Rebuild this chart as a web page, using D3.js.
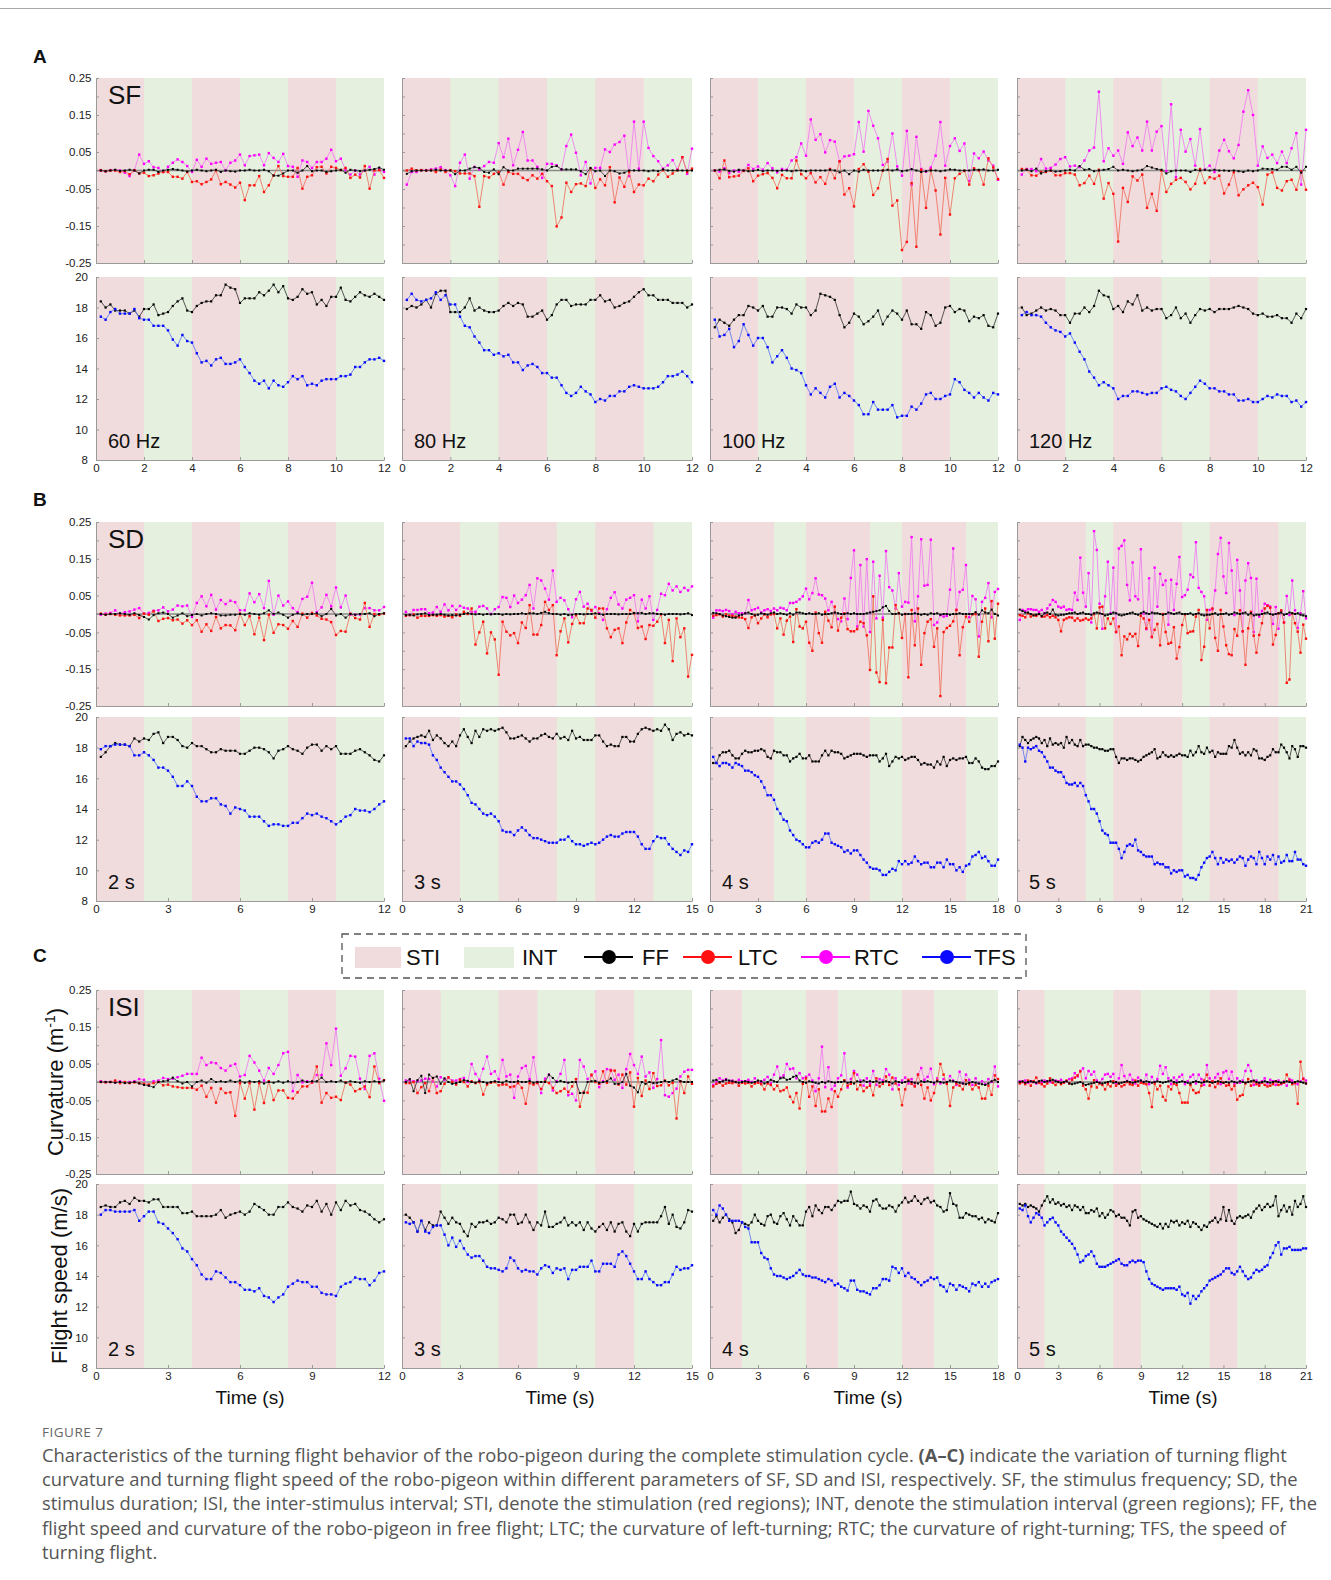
<!DOCTYPE html>
<html>
<head>
<meta charset="utf-8">
<script src="https://cdn.jsdelivr.net/npm/d3@7"></script>
<style>
  body { margin: 0; background: #fff; }
  svg { display: block; font-family: "Liberation Sans", Arial, sans-serif; }
</style>
</head>
<body>
<div id="wrapper"></div>
<script>
// ---- data -------------------------------------------------------------
// panels in reading order: A1..A4 (SF), B1..B4 (SD), C1..C4 (ISI)
const rowLetters = ["A", "B", "C"];
const rowNames = ["SF", "SD", "ISI"];
const panelNames = ["60 Hz", "80 Hz", "100 Hz", "120 Hz", "2 s", "3 s", "4 s", "5 s", "2 s", "3 s", "4 s", "5 s"];
const durations = [12, 12, 12, 12, 12, 15, 18, 21, 12, 15, 18, 21];
// stimulation (STI) periods, seconds; the rest of each panel is INT
const stiBands = [
  [[0, 2], [4, 6], [8, 10]], [[0, 2], [4, 6], [8, 10]], [[0, 2], [4, 6], [8, 10]], [[0, 2], [4, 6], [8, 10]],
  [[0, 2], [4, 6], [8, 10]], [[0, 3], [5, 8], [10, 13]], [[0, 4], [6, 10], [12, 16]], [[0, 5], [7, 12], [14, 19]],
  [[0, 2], [4, 6], [8, 10]], [[0, 2], [5, 7], [10, 12]], [[0, 2], [6, 8], [12, 14]], [[0, 2], [7, 9], [14, 16]]
];
const xTicks = [
  [0, 2, 4, 6, 8, 10, 12], [0, 2, 4, 6, 8, 10, 12], [0, 2, 4, 6, 8, 10, 12], [0, 2, 4, 6, 8, 10, 12],
  [0, 3, 6, 9, 12], [0, 3, 6, 9, 12, 15], [0, 3, 6, 9, 12, 15, 18], [0, 3, 6, 9, 12, 15, 18, 21],
  [0, 3, 6, 9, 12], [0, 3, 6, 9, 12, 15], [0, 3, 6, 9, 12, 15, 18], [0, 3, 6, 9, 12, 15, 18, 21]
];
const curvTicks = [-0.25, -0.2, -0.15, -0.1, -0.05, 0, 0.05, 0.1, 0.15, 0.2, 0.25];
const curvLabels = [-0.25, -0.15, -0.05, 0.05, 0.15, 0.25];
const speedTicks = [8, 10, 12, 14, 16, 18, 20];

// flight speed, m/s
const ffSpeed = [
  [18.4,18.0,18.2,17.8,17.8,17.8,17.6,17.8,17.4,17.9,17.9,18.2,17.5,17.6,17.7,18.1,18.4,18.6,17.8,17.7,18.1,18.3,18.4,18.4,18.8,18.8,19.5,19.3,19.2,18.3,18.6,18.6,18.6,19.0,18.8,19.1,19.5,19.0,19.4,18.6,18.5,18.7,19.2,18.9,19.0,18.2,18.5,18.1,18.7,18.7,19.3,18.5,18.4,18.7,19.0,18.8,18.7,18.9,18.7,18.5],
  [17.9,18.1,18.0,18.2,18.5,18.0,18.9,19.1,19.1,17.7,17.7,17.7,18.0,18.6,17.8,18.0,17.8,17.7,17.7,17.8,18.1,18.3,18.1,18.3,18.2,17.4,17.4,17.6,17.8,17.2,17.5,18.2,18.5,18.5,18.1,18.2,18.2,18.2,18.5,18.5,18.8,18.4,18.5,18.0,18.1,18.3,18.4,18.7,19.0,19.2,18.8,18.8,18.5,18.5,18.5,18.3,18.3,18.3,18.0,18.2],
  [16.7,17.2,17.0,16.8,17.2,17.5,17.5,18.1,18.0,17.8,18.1,17.4,17.4,18.0,18.0,17.9,17.6,18.2,18.0,18.0,17.5,17.8,18.9,18.8,18.7,18.5,17.5,16.7,17.0,17.6,17.4,16.9,17.1,17.4,17.8,16.9,17.4,17.8,17.6,17.2,17.8,16.9,16.9,16.6,17.7,17.5,16.8,17.0,18.0,18.1,17.7,17.9,17.8,17.1,17.4,17.3,17.5,16.8,16.7,17.6],
  [18.0,17.5,17.6,17.8,18.0,17.8,17.9,17.8,17.5,17.5,17.0,17.6,17.6,18.0,17.7,18.1,19.1,18.8,18.7,17.9,18.1,17.7,18.4,18.2,18.8,17.8,18.0,17.8,17.9,17.9,17.3,17.5,18.0,17.3,17.6,17.0,17.5,17.9,17.8,17.9,17.7,17.9,17.9,17.9,18.0,18.1,18.0,17.9,17.6,17.5,17.6,17.4,17.4,17.5,17.3,17.3,17.0,17.6,17.3,17.9],
  [17.4,17.7,18.1,18.3,18.2,18.2,18.1,18.6,18.4,18.6,18.5,18.9,19.0,18.3,18.7,18.7,18.5,18.1,18.0,18.3,18.1,18.1,17.9,17.7,17.7,17.9,17.8,17.8,17.8,17.6,17.6,17.8,18.0,18.0,17.9,17.7,17.3,17.8,17.9,18.1,17.9,17.8,17.6,18.0,18.2,18.2,17.8,18.1,17.9,18.1,17.6,17.6,17.6,17.8,17.9,17.7,17.5,17.2,17.1,17.5],
  [18.1,18.4,18.6,18.7,18.8,18.7,19.1,18.5,18.8,18.6,18.3,18.1,18.4,18.1,18.8,19.2,18.7,18.3,19.1,18.7,19.2,19.1,19.2,19.1,19.2,19.3,19.0,18.6,18.6,18.7,18.8,18.6,18.4,18.6,18.6,18.8,18.9,18.7,18.6,18.9,18.6,18.7,18.5,19.1,18.6,18.7,18.5,18.5,18.5,18.8,18.8,18.4,18.1,18.2,18.1,18.1,18.7,18.7,18.4,18.4,18.9,19.2,19.3,19.2,19.1,19.2,19.1,19.5,19.2,18.5,18.9,19.0,18.8,18.9,18.8],
  [17.0,17.0,17.5,17.7,17.7,17.8,17.5,17.3,17.3,17.6,17.8,17.7,17.7,17.8,17.8,17.9,17.8,17.4,17.3,17.8,17.7,17.7,17.5,17.5,17.1,17.3,17.4,17.6,17.3,17.3,17.5,17.1,17.1,17.1,17.5,17.8,17.5,17.8,17.7,17.7,17.6,17.3,17.4,17.5,17.6,17.6,17.6,17.5,17.4,17.5,17.5,17.5,17.1,17.3,17.6,16.8,17.1,17.4,17.3,17.4,17.2,17.3,17.4,17.4,17.2,16.9,17.0,16.9,16.9,16.7,17.1,16.9,17.4,16.8,17.2,17.3,17.2,17.3,17.3,17.4,17.0,17.0,17.3,17.1,16.7,16.6,16.6,16.8,16.8,17.1],
  [18.1,18.7,18.5,18.3,18.5,18.6,18.7,18.6,18.3,18.5,18.1,18.6,18.2,18.3,18.2,18.3,18.0,18.7,18.3,18.5,18.2,18.1,18.5,18.1,18.2,18.2,18.1,18.0,18.0,17.9,17.9,17.8,17.8,17.9,17.9,17.4,17.0,17.3,17.3,17.2,17.3,17.3,17.2,17.1,17.2,17.4,17.5,17.6,17.7,17.9,17.3,17.4,17.7,17.5,17.4,17.5,17.4,17.5,17.6,17.5,17.5,17.4,17.8,17.5,17.7,18.1,17.7,17.6,18.0,17.7,17.8,17.4,17.7,17.6,17.6,17.6,18.1,18.0,18.5,18.0,17.6,17.7,17.5,17.7,17.5,17.9,17.8,17.3,17.3,17.2,17.4,17.5,17.9,17.7,17.7,18.2,18.0,17.7,17.3,18.1,17.9,17.4,18.1,18.1,18.0],
  [18.5,18.6,18.5,18.5,18.8,18.9,18.7,19.1,18.9,18.9,18.8,19.0,19.0,18.5,18.5,18.5,18.5,18.1,18.1,18.2,17.9,17.9,17.9,17.9,18.0,18.3,17.8,18.0,18.1,18.2,18.0,18.2,18.7,18.5,18.3,18.0,18.0,18.5,18.5,18.8,18.5,18.4,18.2,18.6,18.5,18.9,18.2,18.7,18.0,18.8,18.3,18.9,18.6,18.7,18.3,18.2,18.0,17.7,17.5,17.7],
  [18.0,17.8,17.5,16.9,17.6,17.0,17.5,17.3,17.3,18.2,17.8,17.4,17.8,17.5,17.4,16.9,16.6,17.4,17.2,17.5,17.5,17.6,17.4,17.5,17.8,17.7,17.5,18.0,18.0,17.4,17.5,18.0,17.5,17.0,17.5,17.3,18.2,17.2,17.2,17.4,17.5,17.8,17.3,17.5,17.3,17.5,17.0,17.5,17.1,16.9,17.2,17.4,17.0,17.5,16.9,17.4,17.5,16.9,16.6,17.4,16.9,17.4,17.5,17.5,17.5,17.5,17.9,18.5,17.4,18.0,17.2,17.1,17.5,18.3,18.2],
  [17.6,17.9,17.5,17.8,18.0,17.7,17.5,16.8,17.0,17.5,17.4,17.3,17.5,18.0,17.6,17.4,17.3,17.9,18.0,17.5,17.4,17.9,18.1,17.7,17.3,17.9,17.6,17.3,17.3,18.2,18.5,17.9,18.6,18.3,18.1,18.5,18.5,18.3,18.6,18.9,18.8,18.9,18.9,19.5,18.7,18.6,18.4,18.6,18.5,18.2,18.9,19.0,18.6,18.4,18.4,18.6,18.5,18.2,18.6,18.8,19.1,18.8,18.9,19.2,18.9,18.7,19.0,19.1,18.8,18.9,18.6,18.5,18.2,18.3,19.4,18.7,18.6,17.8,17.8,18.1,18.0,17.9,17.9,17.7,17.8,17.5,17.7,17.6,17.5,18.1],
  [18.7,18.6,18.7,18.5,18.6,18.5,18.4,18.2,18.6,18.9,19.2,18.8,19.0,18.7,18.8,18.6,18.7,18.5,18.6,18.3,18.6,18.5,18.3,18.5,18.1,18.1,18.3,18.2,18.4,17.9,18.1,17.8,18.0,18.3,18.2,17.9,18.0,17.8,17.8,17.6,17.3,18.2,18.3,17.8,17.9,17.7,17.6,17.5,17.4,17.3,17.2,17.4,17.1,17.4,17.2,17.6,17.5,17.6,17.3,17.5,17.4,17.6,17.2,17.5,17.4,17.2,17.0,17.3,17.2,17.5,17.6,17.8,17.5,17.7,18.5,17.6,18.3,17.6,17.4,17.8,17.9,17.8,17.9,18.0,17.8,18.2,18.4,18.6,18.3,18.5,18.7,18.5,18.6,19.2,17.9,18.3,18.6,18.2,18.5,18.0,18.9,18.5,18.7,19.2,18.5]
];
const tfsSpeed = [
  [17.4,17.2,17.7,17.9,17.6,17.6,17.6,17.9,17.3,17.2,17.2,16.8,16.8,16.8,16.5,15.9,15.5,16.2,15.8,15.7,15.0,14.4,14.5,14.2,14.6,14.7,14.3,14.3,14.4,14.6,14.1,13.7,13.2,13.0,13.2,12.7,13.2,12.9,12.8,13.1,13.5,13.3,13.5,12.9,13.0,12.9,13.2,13.3,13.3,13.3,13.5,13.5,13.6,14.1,14.1,14.4,14.6,14.6,14.7,14.5],
  [18.5,18.9,18.5,18.4,18.5,18.6,19.0,18.5,18.8,18.2,18.2,17.4,16.8,16.7,16.1,15.7,15.2,15.2,14.9,15.0,14.8,14.9,14.4,14.4,13.9,14.2,14.3,14.1,13.7,13.7,13.4,13.4,12.9,12.4,12.2,12.4,12.8,12.5,12.3,11.8,12.0,11.9,12.2,12.2,12.5,12.5,12.8,12.9,12.8,12.7,12.7,12.7,12.8,13.1,13.5,13.5,13.6,13.8,13.5,13.1],
  [17.2,16.1,16.2,16.6,15.4,15.8,16.9,16.2,15.5,16.0,16.0,15.4,14.4,14.8,15.2,14.7,14.0,13.9,13.7,12.9,12.3,12.7,12.4,12.1,12.8,13.0,12.1,12.4,12.2,11.9,11.6,11.0,11.0,11.8,11.3,11.3,11.3,11.6,10.8,10.9,10.9,11.5,11.3,11.7,12.3,12.4,12.0,12.0,12.2,12.3,13.3,13.1,12.6,12.4,12.1,12.4,12.1,11.9,12.4,12.3],
  [17.5,17.7,17.5,17.5,17.4,17.0,16.7,16.5,16.4,16.1,16.3,15.7,15.1,14.6,13.8,13.4,12.9,13.1,12.9,12.7,12.0,12.2,12.2,12.5,12.5,12.4,12.3,12.4,12.4,12.7,12.8,12.6,12.5,12.2,12.0,12.4,12.8,13.2,13.0,12.7,12.7,12.5,12.5,12.3,12.3,11.9,11.9,12.0,11.8,11.8,12.0,12.2,12.1,12.3,12.2,12.2,11.8,11.9,11.5,11.8],
  [17.9,18.1,18.1,18.2,18.2,18.2,18.1,17.5,17.5,17.7,17.5,17.2,16.7,16.7,16.5,16.1,15.5,15.5,15.8,15.5,14.8,14.5,14.5,14.7,14.7,14.3,14.2,13.7,14.1,14.0,13.9,13.5,13.5,13.5,13.2,12.9,13.0,13.0,12.9,12.9,13.1,13.1,13.4,13.7,13.6,13.7,13.5,13.4,13.2,13.0,13.2,13.5,13.6,14.0,13.9,13.9,13.8,14.0,14.3,14.5],
  [18.6,18.6,18.1,18.4,18.3,18.3,18.2,17.5,17.2,16.7,16.4,16.1,15.8,15.8,15.6,15.3,14.9,14.4,14.3,14.0,13.7,13.6,13.7,13.5,13.2,12.6,12.5,12.5,12.3,12.6,12.8,12.6,12.3,12.1,12.1,12.0,11.9,11.8,11.8,11.8,12.0,12.0,12.2,11.9,11.7,11.7,11.6,11.7,11.8,11.7,11.8,12.0,12.2,12.3,12.2,12.2,12.4,12.5,12.5,12.5,12.2,11.7,11.4,11.4,11.9,12.2,12.1,12.1,11.7,11.4,11.2,11.0,11.3,11.2,11.7],
  [17.4,17.0,16.8,17.0,17.0,16.9,16.7,17.0,16.9,16.8,16.5,16.5,16.4,16.2,16.1,15.8,15.4,14.9,14.9,14.6,14.0,13.7,13.3,13.2,12.6,12.3,12.0,11.9,11.7,11.5,11.5,11.8,11.9,11.8,12.0,12.4,12.4,11.8,11.7,11.6,11.5,11.2,11.3,11.1,11.3,11.3,11.0,10.7,10.5,10.2,10.1,10.1,10.0,9.7,9.7,9.9,10.1,10.0,10.6,10.4,10.6,10.4,10.5,10.9,10.6,10.4,10.5,10.5,10.2,10.2,10.5,10.5,10.2,10.7,10.4,10.4,10.0,10.2,9.9,10.3,10.4,10.9,11.0,11.2,10.8,10.9,10.6,10.3,10.3,10.7],
  [18.2,18.0,17.1,18.0,17.9,18.0,18.1,17.8,17.7,17.4,17.1,16.7,16.7,16.5,16.4,16.4,16.1,15.7,15.6,15.6,15.7,15.5,15.7,15.5,14.9,14.5,14.0,14.0,13.7,13.2,12.6,12.4,12.3,11.8,11.8,11.8,11.4,10.8,11.2,11.6,11.7,11.6,12.0,11.3,11.2,11.0,10.9,10.9,10.9,10.4,10.5,10.4,10.4,10.2,10.2,9.8,10.0,9.9,10.0,10.0,9.6,9.7,9.5,9.5,9.4,9.7,10.2,10.5,10.8,10.9,11.2,10.8,10.4,10.8,10.5,10.7,10.6,10.7,10.5,10.7,10.9,10.8,10.3,10.7,10.9,10.8,10.4,11.2,10.8,10.4,10.9,10.7,11.0,10.4,10.9,10.5,10.6,11.0,10.6,10.6,11.2,10.7,10.7,10.4,10.3],
  [18.0,18.3,18.3,18.2,18.2,18.2,18.2,18.3,17.6,17.9,18.2,18.2,17.5,17.4,17.1,16.8,16.4,15.8,15.6,15.1,14.7,14.1,13.8,13.8,14.3,14.2,13.9,13.6,13.6,13.4,13.1,13.1,13.0,13.2,12.7,12.6,12.3,12.6,12.8,13.3,13.5,13.7,13.6,13.6,13.3,13.3,12.9,12.8,12.8,12.7,13.3,13.5,13.6,13.9,13.8,13.8,13.4,13.7,14.2,14.3],
  [17.5,17.4,17.5,16.9,17.6,16.9,16.8,17.2,17.3,17.3,16.7,16.0,16.5,15.9,16.3,15.8,15.4,15.2,15.3,15.3,15.0,14.6,14.5,14.5,14.4,14.3,14.5,15.2,15.0,14.5,14.3,14.4,14.3,14.3,14.1,14.5,14.7,14.6,14.2,14.5,14.4,14.5,13.8,14.4,14.4,14.6,14.6,14.6,15.0,14.3,14.3,14.8,14.8,14.8,14.6,15.4,15.6,15.3,14.8,14.3,13.8,13.8,14.3,13.8,13.6,13.4,13.4,13.6,13.6,14.1,14.6,14.4,14.5,14.5,14.7],
  [18.3,18.0,18.6,18.4,18.0,17.6,17.6,17.6,17.6,17.5,17.2,17.1,16.2,16.2,16.2,15.5,15.2,15.1,14.5,14.1,14.0,14.0,13.9,13.8,13.9,14.0,14.2,14.4,14.1,14.0,14.0,13.9,13.9,13.8,13.7,13.6,13.8,13.7,13.4,13.5,13.3,13.2,13.05,13.7,13.7,13.1,13.0,13.0,12.9,12.8,13.2,13.2,13.4,13.8,13.8,13.7,14.6,14.5,14.2,14.5,14.0,14.2,13.9,13.8,13.6,13.4,13.6,13.7,13.9,13.8,13.9,13.4,13.3,13.0,13.5,13.4,13.1,13.4,13.3,13.2,13.0,13.5,13.4,13.6,13.3,13.5,13.3,13.6,13.7,13.8],
  [18.4,18.3,18.6,17.9,17.5,17.8,18.1,18.0,17.8,17.3,17.5,17.7,17.8,17.5,17.3,16.9,16.7,16.5,16.3,16.1,15.8,15.4,14.9,15.0,15.3,15.4,15.6,15.3,14.8,14.6,14.6,14.6,14.7,14.8,14.9,15.0,15.1,14.8,14.7,14.7,14.9,15.0,14.9,15.0,15.0,14.9,14.3,13.8,13.5,13.4,13.3,13.2,13.1,13.2,13.2,13.2,13.2,13.1,13.3,12.8,12.7,12.9,12.2,12.7,12.5,12.7,13.0,13.2,13.4,13.7,13.8,13.9,14.0,14.1,14.3,14.5,14.5,14.2,14.1,14.3,14.6,14.3,14.0,13.8,13.9,14.2,14.4,14.3,14.4,14.6,14.7,15.2,15.5,16.0,16.2,15.4,15.8,15.8,15.9,15.7,15.7,15.7,15.7,15.8,15.8]
];

// curvature, in 10^-3 m^-1
const ffCurv = [
  [0,-2,0,2,-1,0,2,0,-8,0,2,2,-4,0,2,4,2,0,-3,0,2,0,-2,0,2,-4,0,-2,-3,0,0,2,0,0,2,-2,-14,-14,-8,0,0,-6,0,12,-2,0,0,-4,-2,0,2,-6,2,0,-2,0,2,4,8,2],
  [-9,-2,0,0,0,0,2,0,0,0,-10,0,0,5,9,7,-4,-6,3,-10,9,0,0,5,5,5,5,5,3,0,10,12,3,3,3,3,-2,-10,7,-2,0,-15,0,-2,-8,-6,0,0,0,0,-2,0,-2,3,0,0,0,0,0,0],
  [0,2,3,-1,-3,2,0,-2,-1,2,-2,0,0,-1,0,0,-2,0,0,-2,0,0,0,0,2,0,-5,0,-10,0,-3,2,0,0,0,0,2,0,3,-2,0,4,0,-4,-2,0,0,-2,0,3,2,0,0,0,2,2,3,0,0,2],
  [0,2,-2,5,-8,-2,0,-3,-2,0,2,0,12,2,4,-2,0,2,4,10,0,2,0,-2,0,2,12,8,4,2,-8,-2,0,0,0,-4,2,0,2,0,2,0,0,-1,0,-2,-4,0,-2,0,5,4,4,2,10,10,2,10,-6,10],
  [0,-2,0,0,2,0,-2,2,-3,-8,-15,-3,2,4,0,-10,-4,2,-6,-3,0,-4,0,2,0,-4,-4,-2,-2,0,-2,2,0,-2,2,10,0,4,-2,-10,-2,2,-2,0,0,2,-6,0,14,-4,0,-10,0,-2,0,0,2,-6,0,2],
  [-3,-2,-4,-1,0,2,-3,-2,-2,0,-2,-4,-3,-4,-2,0,2,0,-1,0,-2,0,-1,0,0,-2,0,-1,0,0,2,0,2,2,0,3,6,2,0,0,-2,0,-3,-2,0,0,-1,0,0,2,0,-2,0,0,0,-1,0,0,0,3,2,3,0,2,2,0,0,-2,0,0,0,-1,0,2,-3],
  [3,2,0,-4,-6,-8,-10,-10,-4,-2,2,4,0,-4,-2,2,0,-2,2,4,0,2,0,-2,2,-2,4,4,2,0,2,0,0,2,-2,0,0,2,4,2,0,0,2,0,2,0,0,0,2,4,6,8,10,18,22,8,0,0,2,-2,0,0,0,2,0,-2,0,-2,2,0,2,-2,0,0,-2,0,0,2,0,0,0,0,5,-2,10,4,2,12,0,-4],
  [12,8,4,4,0,-4,-2,0,-6,2,4,0,12,-2,-4,-2,-2,0,2,2,4,0,2,4,0,0,-2,2,4,2,0,-4,-2,0,4,2,-2,-4,-2,0,2,4,0,-2,2,6,2,0,4,2,2,0,-2,0,4,2,0,2,4,0,0,0,2,-2,0,2,-2,-4,-2,-2,0,2,-2,0,0,2,-2,0,4,2,0,2,4,-2,2,-4,-2,-2,0,2,4,0,-2,0,2,4,-2,0,4,2,0,2,-2,-4,-6],
  [0,0,0,-2,0,-3,-2,0,-4,-8,-10,-14,0,2,4,12,2,-4,0,-12,0,4,-2,8,0,2,0,4,0,4,-2,2,0,2,-4,0,-2,2,-2,2,-2,0,4,0,2,2,12,0,2,0,4,-2,2,0,-2,2,0,2,0,4],
  [0,8,-25,5,17,-30,20,11,15,-5,10,0,-5,-3,0,5,3,0,-2,2,0,-3,0,2,0,-2,3,0,0,2,0,0,3,-2,0,0,0,20,11,0,3,0,-2,0,0,-30,-30,0,2,3,-2,0,2,10,-5,-5,0,22,-10,-15,-28,0,-5,0,-3,-2,0,3,0,4,8,2,0,0,0],
  [4,6,0,2,6,4,2,0,-2,0,2,0,-2,0,4,2,-4,0,6,2,0,10,12,6,8,14,17,4,0,-2,2,0,-2,-4,0,-2,2,0,-2,0,0,2,-2,0,-4,2,0,4,0,2,0,2,-2,0,2,0,-4,2,0,-2,0,2,0,-2,-4,2,0,2,0,-2,2,0,-2,0,4,2,0,-2,-4,-6,-2,0,-2,-4,-6,-8,-4,2,6,0],
  [0,2,-2,0,2,0,-2,2,4,0,2,4,6,2,0,-2,0,2,-4,-6,-4,-2,0,-4,-8,-6,-4,-2,0,-2,-4,-2,0,2,-2,0,-4,-2,0,2,0,-2,0,2,4,0,2,0,-2,0,2,0,-2,0,2,4,0,-2,0,2,0,-2,-4,0,2,0,-2,0,2,0,-2,0,2,0,-2,0,-2,2,0,-2,2,0,-2,0,2,4,0,-2,0,2,0,-2,0,2,0,-2,0,2,0,-2,0,2,0,-2,-4]
];
const ltcCurv = [
  [1,-2,0,0,-4,-2,-10,1,-8,-6,-15,-13,-8,-4,-4,-17,-17,-22,-4,-31,-29,-37,-31,-24,0,-37,-31,-38,-46,-33,-80,-40,-40,-15,-58,-40,-13,12,-15,-17,-17,7,-49,-17,-13,9,10,-8,10,7,1,7,-20,-11,-19,12,-49,0,1,-20],
  [0,5,0,1,0,1,-4,3,-4,1,-2,-8,-8,-8,-15,-98,-15,-19,-9,-4,-38,-4,-9,-9,-20,-26,-13,-22,-9,-29,-42,-151,-127,-33,-58,-37,-35,-42,5,-47,-24,-40,9,-86,-19,-44,-4,-58,-38,-40,-22,-29,-11,1,-17,-8,1,36,-4,5],
  [0,-21,27,-18,-16,-14,-1,6,-29,-14,-10,-7,-20,-48,-12,-21,-21,27,-10,-21,-7,-32,-18,-36,4,-21,25,-65,-48,-97,4,17,-3,-66,-48,0,31,-95,-81,-215,-193,-34,-206,2,-101,2,-54,-173,-20,-119,-21,-9,-1,-38,6,0,-38,33,8,-23],
  [4,2,-13,-14,-4,-4,0,-13,-13,-7,-7,-11,-40,-34,-14,-36,2,-76,-34,-63,-192,-47,-85,-16,-27,-11,-101,-63,-109,0,-58,-36,-25,-20,-31,-51,-36,4,-34,-18,-22,-14,-62,-38,-5,-67,-51,-40,-33,-45,-92,-11,-5,-47,-54,-29,-25,-52,-2,-52],
  [1,-2,0,-2,-4,-4,-4,-2,-11,1,-2,7,-19,-13,-11,-17,-15,-26,-17,-30,-17,-48,-28,-46,-8,-39,-30,-31,-44,1,-30,-6,-55,-10,-71,-2,-51,-28,-30,-40,-19,-35,1,-10,3,-4,-13,-15,-22,-57,-46,-48,1,-11,-15,30,-35,0,-2,1],
  [-5,-3,-1,-10,-5,-5,-5,-3,-5,-3,-7,-5,-9,-1,-5,6,0,15,-83,-50,-21,-107,-50,-69,-165,-21,-48,-58,-52,-79,-23,-38,24,-56,-56,-30,33,11,24,-112,-47,-12,-77,-27,-3,-25,-25,15,11,-10,15,15,-39,-63,-43,-39,-79,-23,11,2,-38,-34,-68,-30,-32,-21,-1,-79,-16,-128,-12,-63,-39,-170,-111],
  [-5,-3,-1,-7,-1,-5,-5,-7,-9,-10,-14,-38,-9,-3,-25,-12,-1,-9,-1,0,-39,-12,-56,-18,-7,-76,13,-34,-39,-21,-78,-100,4,-52,-78,6,-18,-36,20,-45,-10,2,-41,-47,-47,-41,-21,-25,-58,-152,48,-159,-185,-16,-188,-91,-91,24,2,-65,0,-172,11,-85,15,-138,-52,-21,-14,-89,-39,-223,-49,-38,-32,-20,11,-112,-36,-7,-21,-1,0,-116,-21,15,-74,35,-67,28],
  [-3,-5,-9,2,-7,-3,-5,0,-7,-7,-3,-9,-5,-9,-16,-47,-16,-12,-9,-10,-18,-12,-18,-16,-12,-16,-12,0,-39,18,20,-39,-12,-27,-12,-49,-34,-112,-61,-69,-54,-61,-54,-87,-5,-12,-39,-16,-63,-43,-27,-85,0,-49,-81,-78,-36,-121,-90,-30,-1,-52,-48,-47,-7,11,-125,-89,11,-39,15,-65,-100,11,-34,-85,-109,-112,-41,-59,10,-47,-138,-39,6,-59,-105,-57,-25,15,22,17,-83,-57,2,10,-23,-187,-178,2,-25,-48,-105,-29,-67],
  [0,-1,0,4,-3,0,-3,-1,-3,-5,-7,-3,0,-9,-7,-12,-14,-16,-16,-16,-21,-10,-40,-16,-56,-18,-30,-28,-92,-3,-45,-3,-75,-3,-57,2,-49,-23,-23,-43,-45,-28,-12,-12,-1,42,-56,-30,-43,-40,-49,-1,-7,-25,-19,-12,-41,42,-3,5],
  [-3,-3,0,-30,-14,-3,-25,11,-30,-25,-5,13,0,-7,6,0,-12,2,-3,0,-34,-7,-2,0,-9,-7,-7,-14,-12,-3,-16,-59,-3,-7,-3,-19,2,-3,-16,-30,-25,-18,-27,-12,8,-67,-27,-29,20,0,-5,29,-2,31,31,-7,20,-7,26,-67,11,-38,4,-19,24,-11,-9,4,-9,-2,-99,2,-30,15,-5],
  [-12,-5,-2,-10,-4,-2,-3,0,-10,-2,-4,-2,-12,-4,-2,-6,-20,-4,-8,-20,-10,-25,-22,-15,-40,-55,-30,-72,-5,10,-40,-12,-65,-20,-80,-80,-45,-68,-25,-40,-20,5,-10,-5,24,-20,-8,-25,-15,-10,-36,10,-12,-5,15,-8,12,-4,-20,-63,-20,6,-5,-12,20,-8,-45,-15,-50,-30,4,49,20,-5,-65,-15,-4,-10,-20,5,-6,-20,-8,-15,-45,-45,-10,-35,18,8],
  [-4,0,-6,4,-10,2,12,-2,-6,-12,-4,10,-2,-8,0,-6,-2,4,-4,6,12,18,29,-10,-20,-45,-12,5,-15,-4,-8,-20,-6,-12,2,-10,-4,-12,-8,0,-6,-8,4,-10,-2,-4,-6,-30,-68,-4,-20,-10,-40,-50,-12,-20,-4,-8,-30,-56,-56,-56,-8,-22,-30,-28,-10,4,20,-10,2,-14,-4,10,-2,-10,-8,-20,-10,-48,-38,-35,-4,8,-10,2,-6,-10,-2,-8,-12,-10,-6,2,-8,-4,-2,20,4,-6,-2,-59,55,8,-4]
];
const rtcCurv = [
  [0,-2,1,1,0,-6,-15,0,43,18,25,9,7,-4,10,21,30,23,12,-4,29,10,32,18,21,23,0,21,27,43,14,39,41,43,14,47,34,23,45,12,10,-17,27,23,7,23,23,32,56,25,32,1,-11,0,-11,0,10,-11,5,-4],
  [-38,-4,-4,1,1,3,5,9,1,-13,-42,21,43,-22,10,3,12,23,21,74,36,86,14,56,104,27,27,10,-20,18,18,14,3,66,97,48,-13,23,-35,7,7,57,50,70,77,94,-15,132,5,132,61,39,25,5,14,28,3,36,-9,59],
  [0,-3,6,-7,0,-3,0,15,4,11,2,20,6,-5,4,2,27,36,73,40,138,83,98,49,82,78,24,38,40,44,131,51,161,121,87,15,24,100,11,-14,107,-39,91,4,-3,8,40,131,13,66,87,53,73,-29,46,33,51,27,13,-25],
  [-11,4,4,-2,31,5,7,16,31,36,11,13,9,27,54,62,213,25,60,40,54,18,103,66,89,54,132,54,105,120,-2,179,-18,110,51,85,13,112,2,13,-4,54,83,52,33,69,159,217,150,13,65,34,43,20,51,20,60,101,-38,110],
  [-2,1,3,10,1,5,7,12,16,1,3,9,10,18,7,12,23,21,23,-8,30,48,21,52,12,38,27,36,32,10,10,56,32,54,16,90,-2,50,23,34,16,5,41,47,85,5,18,52,21,72,18,50,-2,-2,-2,16,16,10,10,19],
  [6,-3,11,11,13,13,2,4,19,6,26,10,22,11,22,17,15,6,6,20,22,15,0,13,19,46,44,19,50,30,39,51,79,15,97,91,69,39,118,33,44,37,13,-9,40,60,20,28,8,19,2,-16,13,44,59,26,15,39,44,51,-20,39,15,48,-16,11,55,51,82,64,75,60,71,64,75],
  [-10,10,10,8,11,8,-1,6,2,2,2,38,10,13,17,4,10,13,8,15,10,17,15,10,30,30,33,40,48,69,40,57,97,53,51,42,10,33,4,-14,-20,42,-14,98,173,-34,133,-34,149,-49,142,-12,104,-10,171,73,64,15,111,20,33,31,209,-20,48,203,77,79,202,-30,-23,-3,-7,-5,66,178,11,60,66,133,-9,49,40,-61,33,44,84,-9,60,68],
  [-16,11,8,13,13,11,11,6,11,2,15,25,38,33,20,17,20,11,13,11,58,38,153,58,20,111,-23,225,174,28,-40,48,142,2,126,-49,178,185,200,79,37,140,48,40,176,2,-41,97,-61,126,20,109,79,91,-29,93,11,82,155,46,51,66,107,100,195,71,60,48,-16,11,13,64,163,207,102,57,193,118,-3,147,64,-47,91,138,98,-49,96,-7,8,28,24,20,-27,19,-40,8,-23,49,-3,91,10,-38,2,62,-12],
  [2,0,0,-1,2,-1,0,2,8,6,-9,2,4,11,8,9,13,17,22,22,22,66,46,53,51,38,31,44,49,15,19,71,53,31,4,38,22,46,78,82,-25,19,-1,2,-1,19,19,105,46,145,17,37,71,69,9,-19,71,78,9,-51],
  [4,4,2,2,4,9,8,2,-12,13,6,11,4,4,8,11,0,49,22,6,36,69,22,29,8,60,15,20,-43,15,38,44,8,67,0,-30,9,20,-23,2,22,60,-36,-32,-50,60,42,8,17,29,-14,2,35,33,6,20,-16,35,76,46,22,69,15,26,-16,8,114,-36,-40,-30,-18,15,28,33,33],
  [-8,2,10,4,8,2,4,0,6,2,2,6,0,10,2,0,6,14,-4,20,42,12,18,49,35,37,10,24,10,14,20,4,-25,10,96,-14,40,-20,-10,10,18,78,-15,8,30,20,4,-10,10,-4,30,-8,8,4,35,20,-20,10,-8,4,12,-4,8,-10,20,38,6,14,36,-6,10,-4,8,-2,16,4,-8,28,-4,20,6,-8,10,-4,2,-6,8,0,42,-12],
  [2,0,4,-2,2,0,-4,2,0,4,2,0,-2,4,2,6,0,2,8,10,24,15,30,37,10,30,20,28,4,-2,8,20,22,14,22,-4,10,46,16,2,20,6,-4,12,4,0,20,-6,14,0,8,44,22,40,10,-6,12,4,14,20,-6,2,14,20,-4,20,8,-8,46,10,0,12,22,-6,26,30,8,28,-4,10,-2,4,30,46,30,-8,4,-6,2,10,-4,6,2,-8,4,-6,2,-10,8,4,-4,-6,2,10,4]
];

const legendItems = ["STI", "INT", "FF", "LTC", "RTC", "TFS"];
const captionHead = "FIGURE 7";
const captionLines = [
  [["Characteristics of the turning flight behavior of the robo-pigeon during the complete stimulation cycle. ", false], ["(A\u2013C)", true], [" indicate the variation of turning flight", false]],
  [["curvature and turning flight speed of the robo-pigeon within different parameters of SF, SD and ISI, respectively. SF, the stimulus frequency; SD, the", false]],
  [["stimulus duration; ISI, the inter-stimulus interval; STI, denote the stimulation (red regions); INT, denote the stimulation interval (green regions); FF, the", false]],
  [["flight speed and curvature of the robo-pigeon in free flight; LTC; the curvature of left-turning; RTC; the curvature of right-turning; TFS, the speed of", false]],
  [["turning flight.", false]]
];

// ---- layout -------------------------------------------------------------
const width = 1331, height = 1580;
const colBounds = [[96, 384], [402, 692], [710, 998], [1017, 1306]];
const curvBounds = [[78, 263], [522, 706], [990, 1174]];
const speedBounds = [[277, 460], [717, 901], [1184, 1368]];
const timeTitleX = [250, 560, 868, 1183];
const stiColor = "#f0dcdc", intColor = "#e5f0df";
const axisColor = "#9a9a9a";
const colors = {
  FF: { line: "#3a3a3a", dot: "#000" },
  LTC: { line: "#f2705f", dot: "#ff1010" },
  RTC: { line: "#f07cf0", dot: "#ff00ff" },
  TFS: { line: "#5a78f2", dot: "#0a0aff" }
};

const svg = d3.select("#wrapper").append("svg").attr("width", width).attr("height", height);
svg.append("rect").attr("width", width).attr("height", height).attr("fill", "#fff");
svg.append("line").attr("x1", 0).attr("x2", width).attr("y1", 8.5).attr("y2", 8.5)
  .attr("stroke", "#a8a8a8").attr("stroke-width", 1);

function drawBands(g, p, x, y) {
  const [bottom, top] = y.range();
  g.append("rect")
    .attr("x", x(0)).attr("y", top)
    .attr("width", x(durations[p]) - x(0)).attr("height", bottom - top)
    .attr("fill", intColor);
  g.selectAll(null).data(stiBands[p]).join("rect")
    .attr("x", d => x(d[0])).attr("y", top)
    .attr("width", d => x(d[1]) - x(d[0])).attr("height", bottom - top)
    .attr("fill", stiColor);
}

function drawSeries(g, values, x, y, dur, factor, c, size) {
  const n = values.length;
  const pts = values.map((v, i) => [x((i + 1) * dur / n), y(v * factor)]);
  g.append("path").attr("d", d3.line()(pts))
    .attr("fill", "none").attr("stroke", c.line).attr("stroke-width", 0.85);
  g.selectAll(null).data(pts).join("rect")
    .attr("x", d => d[0] - size / 2).attr("y", d => d[1] - size / 2)
    .attr("width", size).attr("height", size).attr("fill", c.dot);
}

function styleAxis(a) {
  a.attr("font-size", 11.5).attr("font-family", null);
  a.select(".domain").attr("stroke", axisColor);
  a.selectAll(".tick line").attr("stroke", axisColor);
  a.selectAll(".tick text").attr("fill", "#222");
}

function drawPanel(p) {
  const row = Math.floor(p / 4), col = p % 4;
  const dur = durations[p];
  const x = d3.scaleLinear().domain([0, dur]).range(colBounds[col]);
  const yCurv = d3.scaleLinear().domain([-0.25, 0.25]).range([curvBounds[row][1], curvBounds[row][0]]);
  const ySpeed = d3.scaleLinear().domain([8, 20]).range([speedBounds[row][1], speedBounds[row][0]]);
  const g = svg.append("g");

  // 1. backgrounds
  drawBands(g, p, x, yCurv);
  drawBands(g, p, x, ySpeed);

  // 2. axes
  g.append("g").attr("transform", `translate(${x(0)},0)`)
    .call(d3.axisLeft(yCurv).tickValues(curvTicks).tickSizeInner(-3).tickSizeOuter(0).tickPadding(4.5)
      .tickFormat(d => (col === 0 && curvLabels.includes(d)) ? d.toFixed(2) : ""))
    .call(styleAxis);
  g.append("g").attr("transform", `translate(0,${yCurv(-0.25)})`)
    .call(d3.axisBottom(x).tickValues(xTicks[p]).tickSizeInner(-3).tickSizeOuter(0).tickFormat(""))
    .call(styleAxis);
  g.append("g").attr("transform", `translate(${x(0)},0)`)
    .call(d3.axisLeft(ySpeed).tickValues(speedTicks).tickSizeInner(-3).tickSizeOuter(0).tickPadding(8)
      .tickFormat(d => col === 0 ? d : ""))
    .call(styleAxis);
  g.append("g").attr("transform", `translate(0,${ySpeed(8)})`)
    .call(d3.axisBottom(x).tickValues(xTicks[p]).tickSizeInner(-3).tickSizeOuter(0).tickPadding(4.3))
    .call(styleAxis);

  // zero line
  g.append("line").attr("x1", x(0)).attr("x2", x(dur))
    .attr("y1", yCurv(0)).attr("y2", yCurv(0))
    .attr("stroke", "#8a8a8a").attr("stroke-width", 1.6);

  // 3. data
  drawSeries(g, rtcCurv[p], x, yCurv, dur, 0.001, colors.RTC, 2.4);
  drawSeries(g, ltcCurv[p], x, yCurv, dur, 0.001, colors.LTC, 2.4);
  drawSeries(g, ffCurv[p], x, yCurv, dur, 0.001, colors.FF, 2.0);
  drawSeries(g, ffSpeed[p], x, ySpeed, dur, 1, colors.FF, 2.2);
  drawSeries(g, tfsSpeed[p], x, ySpeed, dur, 1, colors.TFS, 2.4);

  // 4. labels
  g.append("text").attr("x", x(0) + 12).attr("y", ySpeed(8) - 12.5)
    .attr("font-size", 20).attr("fill", "#111").text(panelNames[p]);
  if (col === 0) {
    g.append("text").attr("x", x(0) + 12).attr("y", yCurv(0.25) + 26)
      .attr("font-size", 26).attr("fill", "#111").text(rowNames[row]);
    g.append("text").attr("x", 33).attr("y", [63, 506, 962][row])
      .attr("font-size", 19).attr("font-weight", "bold").attr("fill", "#111").text(rowLetters[row]);
  }
  if (row === 2) {
    g.append("text").attr("x", timeTitleX[col]).attr("y", 1404)
      .attr("text-anchor", "middle").attr("font-size", 19).attr("fill", "#111").text("Time (s)");
  }
}

d3.range(12).forEach(drawPanel);

// y axis titles
const curvTitle = svg.append("text")
  .attr("transform", "translate(63,1082) rotate(-90)")
  .attr("text-anchor", "middle").attr("font-size", 22).attr("fill", "#111");
curvTitle.append("tspan").text("Curvature (m");
curvTitle.append("tspan").attr("font-size", 14).attr("dy", -8).text("-1");
curvTitle.append("tspan").attr("dy", 8).text(")");
svg.append("text")
  .attr("transform", "translate(67,1276) rotate(-90)")
  .attr("text-anchor", "middle").attr("font-size", 22).attr("fill", "#111")
  .text("Flight speed (m/s)");

// legend
const legend = svg.append("g");
legend.append("rect").attr("x", 342).attr("y", 934).attr("width", 684).attr("height", 44)
  .attr("fill", "none").attr("stroke", "#555").attr("stroke-width", 1.3).attr("stroke-dasharray", "7,5");
const legendX = { STI: 355, INT: 464, FF: 584, LTC: 683, RTC: 801, TFS: 922 };
const legendTextX = { STI: 406, INT: 522, FF: 642, LTC: 738, RTC: 854, TFS: 974 };
legendItems.forEach(k => {
  const lx = legendX[k];
  if (k === "STI" || k === "INT") {
    legend.append("rect").attr("x", lx).attr("y", 947).attr("width", k === "STI" ? 46 : 50).attr("height", 21)
      .attr("fill", k === "STI" ? stiColor : intColor);
  } else {
    legend.append("line").attr("x1", lx).attr("x2", lx + 49).attr("y1", 957).attr("y2", 957)
      .attr("stroke", colors[k].dot).attr("stroke-width", 2);
    legend.append("circle").attr("cx", lx + 25).attr("cy", 957).attr("r", 7).attr("fill", colors[k].dot);
  }
  legend.append("text").attr("x", legendTextX[k]).attr("y", 965)
    .attr("font-size", 22).attr("fill", "#111").text(k);
});

// caption
svg.append("text").attr("x", 42).attr("y", 1437)
  .attr("font-family", "'Open Sans', sans-serif").attr("font-size", 13.5)
  .attr("letter-spacing", 0.5).attr("fill", "#666").text(captionHead);
const capLines = captionLines.map((parts, i) => {
  const t = svg.append("text").attr("x", 42).attr("y", 1462 + i * 24.2)
    .attr("font-family", "'Open Sans', sans-serif").attr("font-size", 16).attr("fill", "#555");
  parts.forEach(([s, b]) => t.append("tspan").attr("font-weight", b ? "bold" : null).text(s));
  return t;
});
const firstW = capLines[0].node().getComputedTextLength();
const capSize = 16 * 1246 / firstW;
capLines.forEach(t => t.attr("font-size", capSize));
</script>
</body>
</html>
